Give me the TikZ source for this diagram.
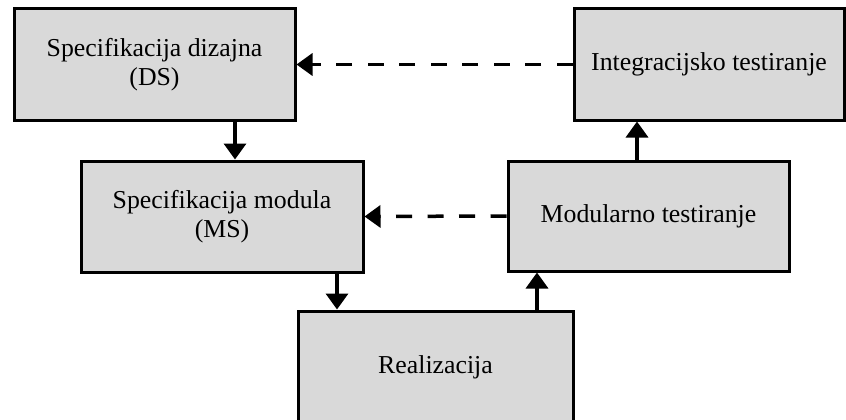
\documentclass[tikz,border=0pt]{standalone}
\usepackage{fontspec}
\setmainfont{Liberation Serif}
\usetikzlibrary{arrows.meta}
\definecolor{boxgray}{HTML}{D9D9D9}
\tikzset{
  blk/.style={draw=black, fill=boxgray, line width=3pt, rectangle, inner sep=0pt,
    align=center, font=\fontsize{25.8}{29.5}\selectfont},
  arr/.style={line width=3.5pt, -{Triangle[length=16pt,width=22pt]}},
  darr/.style={arr, dash pattern=on 16pt off 15.5pt},
}
\begin{document}
\begin{tikzpicture}[x=1pt,y=-1pt]
\useasboundingbox (0,0) rectangle (846,420);
\clip (0,0) rectangle (846,420);
\node[blk, minimum width=281pt, minimum height=111pt] (b1) at (154.5,64.5) {Specifikacija dizajna\\(DS)};
\node[blk, minimum width=270pt, minimum height=111pt] (b2) at (709,64.5) {Integracijsko testiranje};
\node[blk, minimum width=282pt, minimum height=111pt] (b3) at (222,216.5) {Specifikacija modula\\(MS)};
\node[blk, minimum width=281pt, minimum height=110pt] (b4) at (648.5,216) {Modularno testiranje};
\node[blk, minimum width=275pt, minimum height=112pt] (b5) at (435.5,367) {Realizacija};
\coordinate (xa) at (235,0);
\coordinate (xb) at (337,0);
\coordinate (xc) at (537,0);
\coordinate (xd) at (637,0);
\draw[arr] (xa |- b1.south) -- (xa |- b3.north);
\draw[arr] (xb |- b3.south) -- (xb |- b5.north);
\draw[arr] (xc |- b5.north) -- (xc |- b4.south);
\draw[arr] (xd |- b4.north) -- (xd |- b2.south);
\draw[darr] (b2.west) -- (b1.east);
\draw[darr] (b4.west) -- (b3.east);
\end{tikzpicture}
\end{document}
